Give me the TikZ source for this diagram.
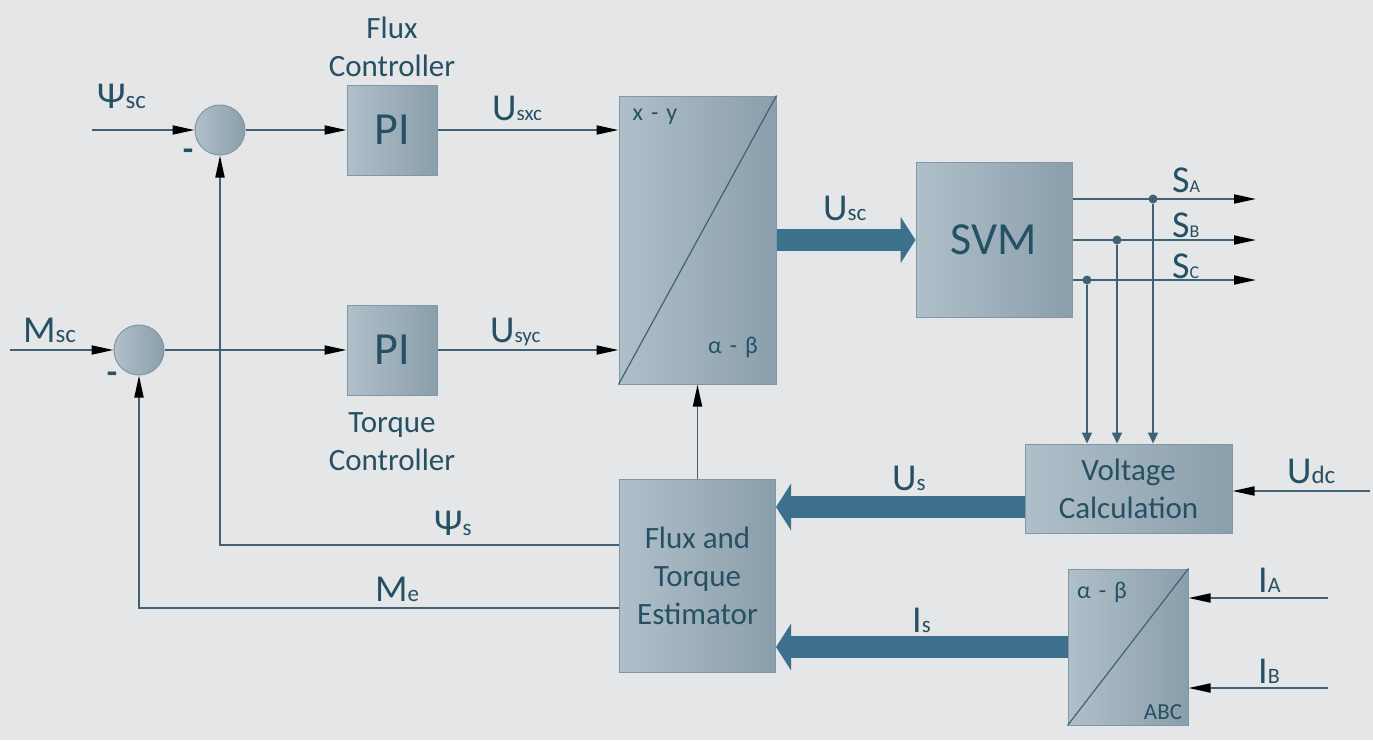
\documentclass[tikz,border=0pt]{standalone}
\usepackage{fontspec}
\setmainfont{Carlito}
\usetikzlibrary{positioning}
\usetikzlibrary{arrows.meta}
\definecolor{bgcol}{RGB}{228,230,231}
\definecolor{boxlight}{RGB}{176,192,202}
\definecolor{boxdark}{RGB}{138,158,171}
\definecolor{boxline}{RGB}{130,150,163}
\definecolor{txtcol}{RGB}{38,80,100}
\definecolor{linecol}{RGB}{64,98,116}
\definecolor{fatcol}{RGB}{60,112,140}
\newcommand{\sglabel}[3][23]{{\fontsize{38}{38}\selectfont #2}{\fontsize{#1}{#1}\selectfont #3}}
\tikzset{
    block/.style = {rectangle, draw=boxline, line width=1pt, left color=boxlight, right color=boxdark, text=txtcol, align=center, inner sep=0pt, font=\fontsize{31}{38}\selectfont},
    pibox/.style = {block, minimum width=90pt, minimum height=90pt, font=\fontsize{46}{46}\selectfont},
    sumnode/.style = {circle, draw=boxline, line width=1pt, left color=boxlight, right color=boxdark, minimum size=50pt, inner sep=0pt},
    dot/.style = {circle, fill=linecol, minimum size=9pt, inner sep=0pt},
    sig/.style = {anchor=base west, inner sep=0pt, text=txtcol},
    capt/.style = {anchor=base, inner sep=0pt, text=txtcol, align=center, font=\fontsize{31}{38}\selectfont},
    small/.style = {inner sep=0pt, text=txtcol, font=\fontsize{24}{24}\selectfont},
    minus/.style = {inner sep=0pt, text=txtcol, font=\fontsize{34}{34}\bfseries\selectfont},
    edgen/.style = {-{Triangle[length=22pt,width=9pt,color=black,fill=black]}, line width=1.8pt, linecol},
    edgev/.style = {-{Triangle[length=11pt,width=10pt]}, line width=1.8pt, linecol},
    edgef/.style = {-{Triangle[length=15pt,width=46pt]}, line width=22pt, fatcol},
    edgel/.style = {line width=1.2pt, linecol}, % diagonal
}

\begin{document}
\begin{tikzpicture}[x=1pt,y=-1pt]
\path[use as bounding box] (0,0) rectangle (1373,740);
\fill[bgcol] (0,0) rectangle (1373,740);
%
\node[sumnode] at (220,130) (sum1) {};
\node[sumnode] at (139,350) (sum2) {};
\node[pibox] at (392,130) (pi1) {PI};
\node[pibox] at (392,350) (pi2) {PI};
\node[block, minimum width=157pt, minimum height=288pt] at (697.5,240) (xy) {};
\node[block, minimum width=156pt, minimum height=155pt, font=\fontsize{46}{46}\selectfont] at (994,240) (svm) {SVM};
\node[block, minimum width=207pt, minimum height=89pt] at (1128.5,488.5) (volt) {Voltage\\Calculation};
\node[block, minimum width=156pt, minimum height=193pt] at (697.5,575.5) (est) {Flux and\\Torque\\Estimator};
\node[block, minimum width=120pt, minimum height=156pt] at (1128,647) (abc) {};
\draw[edgel] (xy.south west) -- (xy.north east);
\draw[edgel] (abc.south west) -- (abc.north east);
\node[small] at (655,117) (xylab) {x\,\,-\,\,y};
\node[small] at (733,347) (ablab) {α\,\,-\,\,β};
\node[small] at (1102,592) (abclab1) {α\,\,-\,\,β};
\node[small, font=\fontsize{23}{23}\selectfont] at (1163,712) (abclab2) {ABC};
%
\node[capt] at (392,76) (fluxc) {Flux\\Controller};
\node[capt] at (392,470) (torqc) {Torque\\Controller};
\node[minus] at (188,155) (m1) {-};
\node[minus] at (112,378) (m2) {-};
%
\coordinate (psisc) at (92,130);
\coordinate (msc) at (10,350);
\coordinate (psis) at (220,545);
\coordinate (me) at (139,608);
\coordinate (sa) at (1256,199);
\coordinate (sb) at (1256,240);
\coordinate (sc) at (1256,280);
\coordinate (udc) at (1370,491);
\coordinate (ia) at (1328,598);
\coordinate (ib) at (1328,688);
\node[dot] at (1153,199) (da) {};
\node[dot] at (1117,240) (db) {};
\node[dot] at (1087,280) (dc) {};
%
\draw[edgen] (psisc) -- (sum1.west);
\draw[edgen] (msc) -- (sum2.west);
\draw[edgen] (sum1) edge node {} (pi1);
\draw[edgen] (sum2) edge node {} (pi2);
\draw[edgen] (pi1.east) -- (pi1.east -| xy.west);
\draw[edgen] (pi2.east) -- (pi2.east -| xy.west);
\draw[edgen] (est.west |- psis) -- (psis) -- (sum1.south);
\draw[edgen] (est.west |- me) -- (me) -- (sum2.south);
\draw[edgen] (est) edge node {} (xy);
\draw[edgen] (svm.east |- sa) -- (sa);
\draw[edgen] (svm.east |- sb) -- (sb);
\draw[edgen] (svm.east |- sc) -- (sc);
\draw[edgev] (da) -- (da |- volt.north);
\draw[edgev] (db) -- (db |- volt.north);
\draw[edgev] (dc) -- (dc |- volt.north);
\draw[edgen] (udc) -- (udc -| volt.east);
\draw[edgen] (ia) -- (ia -| abc.east);
\draw[edgen] (ib) -- (ib -| abc.east);
\draw[edgef] (xy.east) -- (svm.west);
\draw[edgef] ([yshift=-18.5pt]volt.west) -- ([yshift=-18.5pt]volt.west -| est.east);
\draw[edgef] (abc.west) -- (abc.west -| est.east);
%
\node[sig] at (97,108) (lpsisc) {\sglabel[25]{Ψ}{sc}};
\node[sig] at (23,342) (lmsc) {\sglabel[25]{M}{sc}};
\node[sig] at (492,120) (lusxc) {\sglabel[21]{U}{sxc}};
\node[sig] at (490,342) (lusyc) {\sglabel[21]{U}{syc}};
\node[sig] at (823,220) (lusc) {\sglabel{U}{sc}};
\node[sig] at (892,490) (lus) {\sglabel{U}{s}};
\node[sig] at (912,632) (lis) {\sglabel{I}{s}};
\node[sig] at (434,535) (lpsis) {\sglabel{Ψ}{s}};
\node[sig] at (375,601) (lme) {\sglabel{M}{e}};
\node[sig] at (1172,192) (lsa) {\sglabel[18]{S}{A}};
\node[sig] at (1172,237) (lsb) {\sglabel[18]{S}{B}};
\node[sig] at (1172,278) (lsc) {\sglabel[18]{S}{C}};
\node[sig] at (1287,483) (ludc) {\sglabel[25]{U}{dc}};
\node[sig] at (1258,592) (lia) {\sglabel[22]{I}{A}};
\node[sig] at (1258,683) (lib) {\sglabel[22]{I}{B}};

\end{tikzpicture}
\end{document}
